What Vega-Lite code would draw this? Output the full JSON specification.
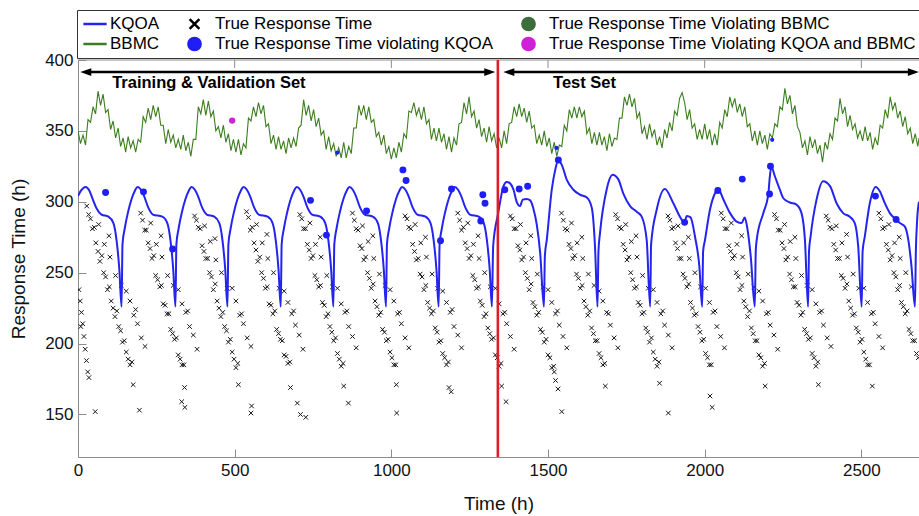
{
"$schema": "https://vega.github.io/schema/vega-lite/v6.json",
"width": 841, "height": 397,
"autosize": {"type": "none"},
"padding": {"left": 78, "top": 60, "right": 0, "bottom": 59},
"config": {"view": {"stroke": null}, "font": "Liberation Sans"},
"datasets": {
"cross": [
{"t":3,"v":238},{"t":7,"v":230},{"t":11,"v":222},{"t":15,"v":214},{"t":19,"v":205},{"t":23,"v":196},{"t":27,"v":188},{"t":31,"v":180},{"t":35,"v":176},{"t":9,"v":212},
{"t":34,"v":291},{"t":46,"v":281},{"t":57,"v":271},{"t":70,"v":258},{"t":82,"v":250},{"t":94,"v":238},{"t":106,"v":230},{"t":118,"v":219},{"t":130,"v":212},{"t":142,"v":201},{"t":154,"v":194},{"t":166,"v":185},
{"t":40,"v":288},{"t":64,"v":265},{"t":88,"v":247},{"t":112,"v":225},{"t":136,"v":209},{"t":160,"v":189},
{"t":52,"v":282},{"t":76,"v":262},{"t":100,"v":240},{"t":124,"v":223},{"t":148,"v":202},{"t":172,"v":187},
{"t":66,"v":284},{"t":84,"v":270},{"t":102,"v":261},{"t":120,"v":248},{"t":138,"v":241},
{"t":154,"v":237},{"t":166,"v":230},{"t":178,"v":220},{"t":190,"v":214},{"t":202,"v":204},{"t":214,"v":198},{"t":184,"v":224},
{"t":99,"v":276},{"t":176,"v":171},{"t":55,"v":152},{"t":28,"v":297},
{"t":200,"v":292},{"t":213,"v":280},{"t":224,"v":271},{"t":236,"v":260},{"t":248,"v":248},{"t":261,"v":240},{"t":272,"v":228},{"t":284,"v":221},{"t":296,"v":210},{"t":308,"v":203},{"t":320,"v":192},{"t":332,"v":185},
{"t":206,"v":287},{"t":230,"v":267},{"t":254,"v":245},{"t":278,"v":227},{"t":302,"v":207},{"t":326,"v":189},
{"t":218,"v":280},{"t":242,"v":262},{"t":266,"v":241},{"t":290,"v":221},{"t":314,"v":204},{"t":338,"v":185},
{"t":232,"v":285},{"t":250,"v":270},{"t":268,"v":261},{"t":286,"v":248},{"t":304,"v":241},
{"t":320,"v":238},{"t":332,"v":228},{"t":344,"v":222},{"t":356,"v":212},{"t":368,"v":206},{"t":380,"v":196},{"t":350,"v":223},
{"t":265,"v":276},{"t":340,"v":169},{"t":196,"v":153},{"t":331,"v":159},
{"t":372,"v":290},{"t":384,"v":282},{"t":396,"v":269},{"t":408,"v":260},{"t":420,"v":250},{"t":432,"v":238},{"t":444,"v":230},{"t":456,"v":219},{"t":468,"v":212},{"t":480,"v":201},{"t":492,"v":194},{"t":504,"v":183},
{"t":378,"v":287},{"t":402,"v":265},{"t":426,"v":247},{"t":450,"v":225},{"t":474,"v":209},{"t":498,"v":189},
{"t":390,"v":281},{"t":414,"v":260},{"t":438,"v":242},{"t":462,"v":222},{"t":486,"v":203},{"t":510,"v":186},
{"t":404,"v":283},{"t":422,"v":272},{"t":440,"v":259},{"t":458,"v":250},{"t":476,"v":239},
{"t":492,"v":239},{"t":504,"v":230},{"t":516,"v":220},{"t":528,"v":214},{"t":540,"v":204},{"t":552,"v":198},{"t":522,"v":221},
{"t":437,"v":274},{"t":512,"v":171},{"t":341,"v":155},{"t":554,"v":156},
{"t":538,"v":293},{"t":550,"v":280},{"t":562,"v":271},{"t":574,"v":258},{"t":586,"v":250},{"t":598,"v":239},{"t":610,"v":228},{"t":622,"v":221},{"t":634,"v":210},{"t":646,"v":203},{"t":658,"v":192},{"t":670,"v":186},
{"t":544,"v":289},{"t":568,"v":266},{"t":592,"v":246},{"t":616,"v":227},{"t":640,"v":207},{"t":664,"v":191},
{"t":556,"v":282},{"t":580,"v":261},{"t":604,"v":240},{"t":628,"v":223},{"t":652,"v":202},{"t":676,"v":187},
{"t":570,"v":284},{"t":588,"v":271},{"t":606,"v":260},{"t":624,"v":250},{"t":642,"v":239},
{"t":658,"v":237},{"t":670,"v":229},{"t":682,"v":221},{"t":694,"v":213},{"t":706,"v":206},{"t":718,"v":196},{"t":688,"v":223},
{"t":603,"v":277},{"t":678,"v":169},{"t":552,"v":151},{"t":700,"v":158},
{"t":708,"v":291},{"t":720,"v":281},{"t":732,"v":270},{"t":744,"v":260},{"t":756,"v":248},{"t":768,"v":240},{"t":780,"v":229},{"t":792,"v":219},{"t":804,"v":212},{"t":816,"v":202},{"t":828,"v":193},{"t":840,"v":184},
{"t":714,"v":288},{"t":738,"v":266},{"t":762,"v":245},{"t":786,"v":227},{"t":810,"v":208},{"t":834,"v":189},
{"t":726,"v":281},{"t":750,"v":262},{"t":774,"v":241},{"t":798,"v":221},{"t":822,"v":204},{"t":846,"v":186},
{"t":740,"v":285},{"t":758,"v":270},{"t":776,"v":261},{"t":794,"v":248},{"t":812,"v":240},
{"t":828,"v":239},{"t":840,"v":228},{"t":852,"v":222},{"t":864,"v":212},{"t":876,"v":205},{"t":888,"v":197},{"t":858,"v":223},
{"t":773,"v":275},{"t":848,"v":170},{"t":710,"v":150},{"t":727,"v":148},
{"t":876,"v":292},{"t":888,"v":281},{"t":900,"v":269},{"t":912,"v":259},{"t":924,"v":250},{"t":936,"v":239},{"t":948,"v":230},{"t":960,"v":220},{"t":972,"v":210},{"t":984,"v":202},{"t":996,"v":194},{"t":1008,"v":185},
{"t":882,"v":287},{"t":906,"v":267},{"t":930,"v":246},{"t":954,"v":226},{"t":978,"v":208},{"t":1002,"v":190},
{"t":894,"v":280},{"t":918,"v":261},{"t":942,"v":242},{"t":966,"v":222},{"t":990,"v":203},{"t":1014,"v":185},
{"t":908,"v":283},{"t":926,"v":272},{"t":944,"v":260},{"t":962,"v":249},{"t":980,"v":241},
{"t":996,"v":238},{"t":1008,"v":230},{"t":1020,"v":221},{"t":1032,"v":214},{"t":1044,"v":204},{"t":1056,"v":197},{"t":1026,"v":222},
{"t":941,"v":276},{"t":1016,"v":171},{"t":863,"v":158},{"t":1017,"v":151},
{"t":1044,"v":290},{"t":1056,"v":282},{"t":1068,"v":270},{"t":1080,"v":259},{"t":1092,"v":249},{"t":1104,"v":238},{"t":1116,"v":229},{"t":1128,"v":221},{"t":1140,"v":211},{"t":1152,"v":201},{"t":1164,"v":193},{"t":1176,"v":185},
{"t":1050,"v":288},{"t":1074,"v":265},{"t":1098,"v":247},{"t":1122,"v":225},{"t":1146,"v":208},{"t":1170,"v":190},
{"t":1062,"v":281},{"t":1086,"v":260},{"t":1110,"v":241},{"t":1134,"v":223},{"t":1158,"v":202},{"t":1182,"v":187},
{"t":1076,"v":284},{"t":1094,"v":271},{"t":1112,"v":261},{"t":1130,"v":249},{"t":1148,"v":239},
{"t":1164,"v":237},{"t":1176,"v":229},{"t":1188,"v":222},{"t":1200,"v":212},{"t":1212,"v":206},{"t":1224,"v":197},{"t":1194,"v":224},
{"t":1109,"v":275},{"t":1184,"v":169},{"t":1191,"v":166},
{"t":1212,"v":292},{"t":1224,"v":280},{"t":1236,"v":271},{"t":1248,"v":260},{"t":1260,"v":248},{"t":1272,"v":239},{"t":1284,"v":230},{"t":1296,"v":219},{"t":1308,"v":211},{"t":1320,"v":203},{"t":1332,"v":192},{"t":1344,"v":184},
{"t":1218,"v":287},{"t":1242,"v":267},{"t":1266,"v":245},{"t":1290,"v":227},{"t":1314,"v":207},{"t":1338,"v":190},
{"t":1230,"v":282},{"t":1254,"v":262},{"t":1278,"v":240},{"t":1302,"v":221},{"t":1326,"v":204},{"t":1350,"v":186},
{"t":1244,"v":285},{"t":1262,"v":270},{"t":1280,"v":260},{"t":1298,"v":250},{"t":1316,"v":240},
{"t":1332,"v":239},{"t":1344,"v":228},{"t":1356,"v":221},{"t":1368,"v":214},{"t":1380,"v":205},{"t":1392,"v":196},{"t":1362,"v":222},
{"t":1277,"v":276},{"t":1352,"v":170},{"t":1366,"v":159},
{"t":1380,"v":290},{"t":1392,"v":281},{"t":1404,"v":269},{"t":1416,"v":259},{"t":1428,"v":250},{"t":1440,"v":238},{"t":1452,"v":229},{"t":1464,"v":220},{"t":1476,"v":210},{"t":1488,"v":201},{"t":1500,"v":192},{"t":1512,"v":183},{"t":1524,"v":174},{"t":1532,"v":168},
{"t":1386,"v":288},{"t":1410,"v":266},{"t":1434,"v":246},{"t":1458,"v":226},{"t":1482,"v":208},{"t":1506,"v":190},
{"t":1398,"v":281},{"t":1422,"v":261},{"t":1446,"v":242},{"t":1470,"v":222},{"t":1494,"v":203},{"t":1518,"v":184},
{"t":1412,"v":284},{"t":1430,"v":271},{"t":1448,"v":260},{"t":1466,"v":249},{"t":1484,"v":240},
{"t":1500,"v":238},{"t":1512,"v":229},{"t":1524,"v":221},{"t":1536,"v":213},{"t":1548,"v":205},{"t":1560,"v":197},{"t":1530,"v":223},
{"t":1445,"v":276},{"t":1544,"v":152},{"t":1520,"v":180},
{"t":1543,"v":292},{"t":1555,"v":281},{"t":1567,"v":270},{"t":1579,"v":260},{"t":1591,"v":249},{"t":1603,"v":239},{"t":1615,"v":230},{"t":1627,"v":220},{"t":1639,"v":211},{"t":1651,"v":202},{"t":1663,"v":193},{"t":1675,"v":185},
{"t":1549,"v":287},{"t":1573,"v":267},{"t":1597,"v":246},{"t":1621,"v":226},{"t":1645,"v":207},{"t":1669,"v":190},
{"t":1561,"v":280},{"t":1585,"v":262},{"t":1609,"v":241},{"t":1633,"v":223},{"t":1657,"v":202},{"t":1681,"v":186},
{"t":1575,"v":285},{"t":1593,"v":271},{"t":1611,"v":260},{"t":1629,"v":249},{"t":1647,"v":241},
{"t":1663,"v":237},{"t":1675,"v":230},{"t":1687,"v":222},{"t":1699,"v":213},{"t":1711,"v":204},{"t":1723,"v":197},{"t":1693,"v":221},
{"t":1608,"v":275},{"t":1683,"v":170},
{"t":1716,"v":291},{"t":1728,"v":282},{"t":1740,"v":270},{"t":1752,"v":259},{"t":1764,"v":250},{"t":1776,"v":239},{"t":1788,"v":229},{"t":1800,"v":221},{"t":1812,"v":211},{"t":1824,"v":201},{"t":1836,"v":194},{"t":1848,"v":184},
{"t":1722,"v":288},{"t":1746,"v":266},{"t":1770,"v":245},{"t":1794,"v":227},{"t":1818,"v":208},{"t":1842,"v":189},
{"t":1734,"v":281},{"t":1758,"v":261},{"t":1782,"v":240},{"t":1806,"v":222},{"t":1830,"v":204},{"t":1854,"v":187},
{"t":1748,"v":284},{"t":1766,"v":272},{"t":1784,"v":261},{"t":1802,"v":248},{"t":1820,"v":239},
{"t":1836,"v":238},{"t":1848,"v":229},{"t":1860,"v":221},{"t":1872,"v":213},{"t":1884,"v":206},{"t":1896,"v":197},{"t":1866,"v":223},
{"t":1781,"v":276},{"t":1884,"v":151},{"t":1856,"v":172},
{"t":1883,"v":290},{"t":1895,"v":281},{"t":1907,"v":271},{"t":1919,"v":260},{"t":1931,"v":249},{"t":1943,"v":240},{"t":1955,"v":229},{"t":1967,"v":220},{"t":1979,"v":212},{"t":1991,"v":202},{"t":2003,"v":193},{"t":2015,"v":185},
{"t":1889,"v":287},{"t":1913,"v":267},{"t":1937,"v":246},{"t":1961,"v":225},{"t":1985,"v":208},{"t":2009,"v":190},
{"t":1901,"v":282},{"t":1925,"v":260},{"t":1949,"v":242},{"t":1973,"v":221},{"t":1997,"v":203},{"t":2021,"v":185},
{"t":1915,"v":283},{"t":1933,"v":271},{"t":1951,"v":260},{"t":1969,"v":250},{"t":1987,"v":240},
{"t":2003,"v":239},{"t":2015,"v":229},{"t":2027,"v":222},{"t":2039,"v":212},{"t":2051,"v":205},{"t":2063,"v":197},{"t":2033,"v":223},
{"t":1948,"v":275},{"t":2024,"v":155},{"t":2017,"v":163},
{"t":2053,"v":292},{"t":2065,"v":281},{"t":2077,"v":269},{"t":2089,"v":260},{"t":2101,"v":250},{"t":2113,"v":238},{"t":2125,"v":230},{"t":2137,"v":219},{"t":2149,"v":211},{"t":2161,"v":202},{"t":2173,"v":192},{"t":2185,"v":184},
{"t":2059,"v":288},{"t":2083,"v":265},{"t":2107,"v":247},{"t":2131,"v":226},{"t":2155,"v":207},{"t":2179,"v":190},
{"t":2071,"v":281},{"t":2095,"v":262},{"t":2119,"v":241},{"t":2143,"v":223},{"t":2167,"v":202},{"t":2191,"v":186},
{"t":2085,"v":285},{"t":2103,"v":270},{"t":2121,"v":261},{"t":2139,"v":249},{"t":2157,"v":240},
{"t":2173,"v":237},{"t":2185,"v":230},{"t":2197,"v":221},{"t":2209,"v":213},{"t":2221,"v":206},{"t":2233,"v":196},{"t":2203,"v":222},
{"t":2118,"v":276},{"t":2193,"v":170},
{"t":2223,"v":291},{"t":2235,"v":280},{"t":2247,"v":271},{"t":2259,"v":259},{"t":2271,"v":249},{"t":2283,"v":240},{"t":2295,"v":229},{"t":2307,"v":220},{"t":2319,"v":210},{"t":2331,"v":203},{"t":2343,"v":193},{"t":2355,"v":184},
{"t":2229,"v":288},{"t":2253,"v":267},{"t":2277,"v":245},{"t":2301,"v":227},{"t":2325,"v":207},{"t":2349,"v":190},
{"t":2241,"v":280},{"t":2265,"v":261},{"t":2289,"v":240},{"t":2313,"v":222},{"t":2337,"v":204},{"t":2361,"v":187},
{"t":2255,"v":284},{"t":2273,"v":272},{"t":2291,"v":260},{"t":2309,"v":248},{"t":2327,"v":241},
{"t":2343,"v":238},{"t":2355,"v":228},{"t":2367,"v":222},{"t":2379,"v":213},{"t":2391,"v":204},{"t":2403,"v":198},{"t":2373,"v":223},
{"t":2288,"v":275},{"t":2363,"v":171},
{"t":2388,"v":290},{"t":2400,"v":282},{"t":2412,"v":270},{"t":2424,"v":260},{"t":2436,"v":248},{"t":2448,"v":239},{"t":2460,"v":230},{"t":2472,"v":220},{"t":2484,"v":211},{"t":2496,"v":201},{"t":2508,"v":194},{"t":2520,"v":185},
{"t":2394,"v":287},{"t":2418,"v":266},{"t":2442,"v":246},{"t":2466,"v":225},{"t":2490,"v":208},{"t":2514,"v":189},
{"t":2406,"v":281},{"t":2430,"v":260},{"t":2454,"v":242},{"t":2478,"v":221},{"t":2502,"v":203},{"t":2526,"v":185},
{"t":2420,"v":283},{"t":2438,"v":271},{"t":2456,"v":261},{"t":2474,"v":249},{"t":2492,"v":239},
{"t":2508,"v":239},{"t":2520,"v":229},{"t":2532,"v":221},{"t":2544,"v":214},{"t":2556,"v":205},{"t":2568,"v":197},{"t":2538,"v":222},
{"t":2453,"v":277},{"t":2535,"v":170},
{"t":2556,"v":292},{"t":2568,"v":281},{"t":2580,"v":270},{"t":2592,"v":259},{"t":2604,"v":250},{"t":2616,"v":238},{"t":2628,"v":229},{"t":2640,"v":221},{"t":2652,"v":210},{"t":2664,"v":202},{"t":2676,"v":193},
{"t":2562,"v":288},{"t":2586,"v":266},{"t":2610,"v":247},{"t":2634,"v":226},{"t":2658,"v":207},{"t":2682,"v":190},
{"t":2574,"v":282},{"t":2598,"v":262},{"t":2622,"v":241},{"t":2646,"v":223},{"t":2670,"v":202},
{"t":2588,"v":284},{"t":2606,"v":271},{"t":2624,"v":260},{"t":2642,"v":250},{"t":2660,"v":240},
{"t":2621,"v":275}
],
"bbmc": [
{"t":0,"v":350},{"t":8,"v":341},{"t":16,"v":347},{"t":24,"v":340},{"t":32,"v":358},{"t":40,"v":356},{"t":48,"v":367},{"t":56,"v":362},{"t":64,"v":378},{"t":72,"v":368},{"t":80,"v":376},{"t":88,"v":363},{"t":96,"v":365},{"t":104,"v":351},{"t":112,"v":357},{"t":120,"v":345},{"t":128,"v":352},{"t":136,"v":339},{"t":144,"v":345},{"t":152,"v":335},{"t":160,"v":346},{"t":168,"v":338},{"t":176,"v":343},{"t":184,"v":335},{"t":192,"v":344},{"t":200,"v":342},{"t":208,"v":360},{"t":216,"v":356},{"t":224,"v":366},{"t":232,"v":358},{"t":240,"v":368},{"t":248,"v":360},{"t":256,"v":367},{"t":264,"v":354},{"t":272,"v":354},{"t":280,"v":341},{"t":288,"v":351},{"t":296,"v":342},{"t":304,"v":347},{"t":312,"v":338},{"t":320,"v":344},{"t":328,"v":337},{"t":336,"v":347},{"t":344,"v":336},{"t":352,"v":342},{"t":360,"v":332},{"t":368,"v":344},{"t":376,"v":344},{"t":384,"v":367},{"t":392,"v":362},{"t":400,"v":372},{"t":408,"v":361},{"t":416,"v":371},{"t":424,"v":360},{"t":432,"v":364},{"t":440,"v":350},{"t":448,"v":353},{"t":456,"v":345},{"t":464,"v":354},{"t":472,"v":342},{"t":480,"v":348},{"t":488,"v":336},{"t":496,"v":344},{"t":504,"v":335},{"t":512,"v":344},{"t":520,"v":333},{"t":528,"v":341},{"t":536,"v":338},{"t":544,"v":359},{"t":552,"v":357},{"t":560,"v":367},{"t":568,"v":360},{"t":576,"v":370},{"t":584,"v":362},{"t":592,"v":368},{"t":600,"v":353},{"t":608,"v":355},{"t":616,"v":341},{"t":624,"v":347},{"t":632,"v":337},{"t":640,"v":346},{"t":648,"v":337},{"t":656,"v":343},{"t":664,"v":334},{"t":672,"v":345},{"t":680,"v":338},{"t":688,"v":345},{"t":696,"v":339},{"t":704,"v":352},{"t":712,"v":354},{"t":720,"v":372},{"t":728,"v":361},{"t":736,"v":368},{"t":744,"v":357},{"t":752,"v":365},{"t":760,"v":353},{"t":768,"v":359},{"t":776,"v":347},{"t":784,"v":350},{"t":792,"v":337},{"t":800,"v":346},{"t":808,"v":336},{"t":816,"v":341},{"t":824,"v":332},{"t":832,"v":338},{"t":840,"v":331},{"t":848,"v":342},{"t":856,"v":331},{"t":864,"v":339},{"t":872,"v":334},{"t":880,"v":352},{"t":888,"v":352},{"t":896,"v":368},{"t":904,"v":361},{"t":912,"v":368},{"t":920,"v":358},{"t":928,"v":367},{"t":936,"v":356},{"t":944,"v":358},{"t":952,"v":346},{"t":960,"v":349},{"t":968,"v":340},{"t":976,"v":347},{"t":984,"v":334},{"t":992,"v":339},{"t":1000,"v":330},{"t":1008,"v":338},{"t":1016,"v":331},{"t":1024,"v":342},{"t":1032,"v":335},{"t":1040,"v":348},{"t":1048,"v":345},{"t":1056,"v":364},{"t":1064,"v":363},{"t":1072,"v":370},{"t":1080,"v":361},{"t":1088,"v":366},{"t":1096,"v":358},{"t":1104,"v":367},{"t":1112,"v":355},{"t":1120,"v":358},{"t":1128,"v":344},{"t":1136,"v":352},{"t":1144,"v":343},{"t":1152,"v":352},{"t":1160,"v":342},{"t":1168,"v":348},{"t":1176,"v":337},{"t":1184,"v":346},{"t":1192,"v":335},{"t":1200,"v":345},{"t":1208,"v":340},{"t":1216,"v":355},{"t":1224,"v":356},{"t":1232,"v":370},{"t":1240,"v":362},{"t":1248,"v":374},{"t":1256,"v":360},{"t":1264,"v":364},{"t":1272,"v":352},{"t":1280,"v":358},{"t":1288,"v":346},{"t":1296,"v":352},{"t":1304,"v":342},{"t":1312,"v":353},{"t":1320,"v":343},{"t":1328,"v":348},{"t":1336,"v":338},{"t":1344,"v":345},{"t":1352,"v":338},{"t":1360,"v":350},{"t":1368,"v":341},{"t":1376,"v":355},{"t":1384,"v":356},{"t":1392,"v":367},{"t":1400,"v":360},{"t":1408,"v":369},{"t":1416,"v":360},{"t":1424,"v":366},{"t":1432,"v":356},{"t":1440,"v":364},{"t":1448,"v":352},{"t":1456,"v":354},{"t":1464,"v":341},{"t":1472,"v":347},{"t":1480,"v":340},{"t":1488,"v":350},{"t":1496,"v":339},{"t":1504,"v":345},{"t":1512,"v":334},{"t":1520,"v":342},{"t":1528,"v":332},{"t":1536,"v":340},{"t":1544,"v":339},{"t":1552,"v":354},{"t":1560,"v":350},{"t":1568,"v":365},{"t":1576,"v":359},{"t":1584,"v":367},{"t":1592,"v":359},{"t":1600,"v":367},{"t":1608,"v":360},{"t":1616,"v":364},{"t":1624,"v":348},{"t":1632,"v":352},{"t":1640,"v":341},{"t":1648,"v":349},{"t":1656,"v":340},{"t":1664,"v":349},{"t":1672,"v":340},{"t":1680,"v":346},{"t":1688,"v":336},{"t":1696,"v":348},{"t":1704,"v":339},{"t":1712,"v":345},{"t":1720,"v":344},{"t":1728,"v":359},{"t":1736,"v":359},{"t":1744,"v":374},{"t":1752,"v":368},{"t":1760,"v":376},{"t":1768,"v":367},{"t":1776,"v":373},{"t":1784,"v":359},{"t":1792,"v":363},{"t":1800,"v":348},{"t":1808,"v":353},{"t":1816,"v":344},{"t":1824,"v":355},{"t":1832,"v":346},{"t":1840,"v":351},{"t":1848,"v":340},{"t":1856,"v":346},{"t":1864,"v":338},{"t":1872,"v":351},{"t":1880,"v":345},{"t":1888,"v":356},{"t":1896,"v":350},{"t":1904,"v":364},{"t":1912,"v":361},{"t":1920,"v":373},{"t":1928,"v":377},{"t":1936,"v":370},{"t":1944,"v":358},{"t":1952,"v":365},{"t":1960,"v":352},{"t":1968,"v":355},{"t":1976,"v":344},{"t":1984,"v":351},{"t":1992,"v":344},{"t":2000,"v":355},{"t":2008,"v":344},{"t":2016,"v":351},{"t":2024,"v":340},{"t":2032,"v":348},{"t":2040,"v":340},{"t":2048,"v":356},{"t":2056,"v":352},{"t":2064,"v":365},{"t":2072,"v":360},{"t":2080,"v":374},{"t":2088,"v":367},{"t":2096,"v":373},{"t":2104,"v":363},{"t":2112,"v":369},{"t":2120,"v":360},{"t":2128,"v":367},{"t":2136,"v":353},{"t":2144,"v":355},{"t":2152,"v":343},{"t":2160,"v":350},{"t":2168,"v":340},{"t":2176,"v":350},{"t":2184,"v":341},{"t":2192,"v":347},{"t":2200,"v":337},{"t":2208,"v":348},{"t":2216,"v":345},{"t":2224,"v":355},{"t":2232,"v":353},{"t":2240,"v":367},{"t":2248,"v":365},{"t":2256,"v":380},{"t":2264,"v":369},{"t":2272,"v":375},{"t":2280,"v":362},{"t":2288,"v":368},{"t":2296,"v":353},{"t":2304,"v":349},{"t":2312,"v":338},{"t":2320,"v":343},{"t":2328,"v":333},{"t":2336,"v":346},{"t":2344,"v":338},{"t":2352,"v":344},{"t":2360,"v":334},{"t":2368,"v":340},{"t":2376,"v":328},{"t":2384,"v":342},{"t":2392,"v":337},{"t":2400,"v":348},{"t":2408,"v":344},{"t":2416,"v":359},{"t":2424,"v":357},{"t":2432,"v":373},{"t":2440,"v":362},{"t":2448,"v":367},{"t":2456,"v":353},{"t":2464,"v":361},{"t":2472,"v":351},{"t":2480,"v":355},{"t":2488,"v":345},{"t":2496,"v":350},{"t":2504,"v":343},{"t":2512,"v":353},{"t":2520,"v":343},{"t":2528,"v":349},{"t":2536,"v":337},{"t":2544,"v":345},{"t":2552,"v":340},{"t":2560,"v":354},{"t":2568,"v":352},{"t":2576,"v":365},{"t":2584,"v":359},{"t":2592,"v":374},{"t":2600,"v":365},{"t":2608,"v":370},{"t":2616,"v":359},{"t":2624,"v":364},{"t":2632,"v":353},{"t":2640,"v":360},{"t":2648,"v":348},{"t":2656,"v":352},{"t":2664,"v":341},{"t":2672,"v":348},{"t":2680,"v":339},{"t":2684,"v":345}
],
"kqoa": [
{"t":0,"v":304},{"t":10,"v":308},{"t":24,"v":310.5},{"t":36,"v":308},{"t":45,"v":303},{"t":59,"v":295.5},{"t":75,"v":291},{"t":97,"v":289.5},{"t":113,"v":285},{"t":123,"v":273},{"t":132,"v":252},{"t":139,"v":226},
{"t":142,"v":270},{"t":149,"v":281},{"t":160,"v":293},{"t":171,"v":302},{"t":182,"v":308},{"t":190,"v":310.5},{"t":201,"v":308.5},{"t":211,"v":304},{"t":224,"v":296},{"t":239,"v":291},{"t":269,"v":289.5},{"t":285,"v":285},{"t":295,"v":273},{"t":304,"v":252},{"t":311,"v":226},
{"t":314,"v":270},{"t":321,"v":281},{"t":332,"v":293},{"t":343,"v":302},{"t":354,"v":308},{"t":362,"v":310.5},{"t":373,"v":308.5},{"t":383,"v":304},{"t":396,"v":296},{"t":411,"v":291},{"t":435,"v":289.5},{"t":451,"v":285},{"t":461,"v":273},{"t":470,"v":252},{"t":477,"v":226},
{"t":480,"v":270},{"t":487,"v":281},{"t":498,"v":293},{"t":509,"v":302},{"t":520,"v":308},{"t":528,"v":310.5},{"t":539,"v":308.5},{"t":549,"v":304},{"t":562,"v":296},{"t":577,"v":291},{"t":605,"v":289.5},{"t":621,"v":285},{"t":631,"v":273},{"t":640,"v":252},{"t":647,"v":226},
{"t":650,"v":270},{"t":657,"v":281},{"t":668,"v":293},{"t":679,"v":302},{"t":690,"v":308},{"t":698,"v":310.5},{"t":709,"v":308.5},{"t":719,"v":304},{"t":732,"v":296},{"t":747,"v":291},{"t":773,"v":289.5},{"t":789,"v":285},{"t":799,"v":273},{"t":808,"v":252},{"t":815,"v":226},
{"t":818,"v":270},{"t":825,"v":281},{"t":836,"v":293},{"t":847,"v":302},{"t":858,"v":308},{"t":866,"v":310.5},{"t":877,"v":308.5},{"t":887,"v":304},{"t":900,"v":296},{"t":915,"v":291},{"t":941,"v":289.5},{"t":957,"v":285},{"t":967,"v":273},{"t":976,"v":252},{"t":983,"v":226},
{"t":986,"v":270},{"t":993,"v":281},{"t":1004,"v":293},{"t":1015,"v":302},{"t":1026,"v":308},{"t":1034,"v":310.5},{"t":1045,"v":308.5},{"t":1055,"v":304},{"t":1068,"v":296},{"t":1083,"v":291},{"t":1109,"v":289.5},{"t":1125,"v":285},{"t":1135,"v":273},{"t":1144,"v":252},{"t":1151,"v":226},
{"t":1154,"v":270},{"t":1161,"v":281},{"t":1172,"v":293},{"t":1183,"v":302},{"t":1194,"v":308},{"t":1202,"v":310.5},{"t":1213,"v":308.5},{"t":1223,"v":304},{"t":1236,"v":296},{"t":1251,"v":291},{"t":1279,"v":289.5},{"t":1295,"v":285},{"t":1305,"v":273},{"t":1314,"v":252},{"t":1321,"v":226},
{"t":1325,"v":269},{"t":1341,"v":292},{"t":1358,"v":311},{"t":1368,"v":314},{"t":1379,"v":313},{"t":1390,"v":308.5},{"t":1400,"v":300},{"t":1411,"v":297},{"t":1419,"v":301.5},{"t":1432,"v":302},{"t":1443,"v":301},{"t":1453,"v":295.5},{"t":1464,"v":284},{"t":1475,"v":264},{"t":1487,"v":226},
{"t":1490,"v":262},{"t":1496,"v":273},{"t":1512,"v":308.5},{"t":1523,"v":322.5},{"t":1533,"v":329.5},{"t":1544,"v":326},{"t":1560,"v":315.5},{"t":1581,"v":308.5},{"t":1602,"v":305},{"t":1624,"v":303},{"t":1640,"v":295.5},{"t":1650,"v":268.5},{"t":1658,"v":226},
{"t":1661,"v":265},{"t":1666,"v":278},{"t":1687,"v":308.5},{"t":1706,"v":319},{"t":1724,"v":316},{"t":1740,"v":306},{"t":1762,"v":297},{"t":1783,"v":293},{"t":1799,"v":289.5},{"t":1815,"v":273},{"t":1826,"v":226},
{"t":1829,"v":270},{"t":1847,"v":294.5},{"t":1873,"v":309},{"t":1900,"v":299},{"t":1921,"v":289.5},{"t":1935,"v":285.5},{"t":1943,"v":290},{"t":1955,"v":289},{"t":1969,"v":275.5},{"t":1983,"v":254.5},{"t":1992,"v":226},
{"t":1995,"v":265},{"t":2001,"v":273},{"t":2017,"v":294.5},{"t":2033,"v":306},{"t":2043,"v":309},{"t":2059,"v":302},{"t":2081,"v":292},{"t":2102,"v":286},{"t":2118,"v":285},{"t":2128,"v":289},{"t":2136,"v":281.5},{"t":2147,"v":261.5},{"t":2160,"v":226},
{"t":2163,"v":265},{"t":2166,"v":273},{"t":2187,"v":292},{"t":2203,"v":305},{"t":2208,"v":318},{"t":2213,"v":324.5},{"t":2224,"v":318},{"t":2240,"v":308.5},{"t":2251,"v":302.5},{"t":2272,"v":299.5},{"t":2293,"v":298},{"t":2309,"v":292},{"t":2320,"v":273},{"t":2330,"v":226},
{"t":2333,"v":265},{"t":2338,"v":275.5},{"t":2357,"v":301.5},{"t":2378,"v":314.5},{"t":2400,"v":311},{"t":2421,"v":299},{"t":2442,"v":292},{"t":2463,"v":289.5},{"t":2479,"v":285},{"t":2490,"v":268.5},{"t":2501,"v":226},
{"t":2504,"v":265},{"t":2511,"v":275.5},{"t":2527,"v":299},{"t":2546,"v":310.5},{"t":2559,"v":307.5},{"t":2575,"v":299},{"t":2591,"v":292},{"t":2610,"v":287.5},{"t":2623,"v":285},{"t":2639,"v":282.5},{"t":2650,"v":273},{"t":2660,"v":254.5},{"t":2671,"v":226},
{"t":2674,"v":265},{"t":2678,"v":287},{"t":2684,"v":300}
],
"viok": [
{"t":88,"v":306.6},{"t":209,"v":307},{"t":302,"v":266.7},{"t":742,"v":301},{"t":793,"v":276.5},{"t":921,"v":293.6},{"t":1037,"v":322.5},{"t":1047,"v":315},{"t":1157,"v":272.5},{"t":1192,"v":309},{"t":1285.5,"v":286.5},{"t":1292,"v":305},{"t":1299,"v":299},{"t":1362,"v":308.5},{"t":1408,"v":309},{"t":1435,"v":311},{"t":1533,"v":329.5},{"t":1527,"v":338},{"t":1936,"v":285.5},{"t":2042,"v":308},{"t":2120,"v":316},{"t":2207,"v":305.5},{"t":2210,"v":325},{"t":2545,"v":304},{"t":2611,"v":287.5},{"t":828,"v":334.7},{"t":2215.6,"v":343.7}
],
"viob": [{"t":492,"v":357.3}],
"split": [{"t":1340}],
"topticks": [{"t":500},{"t":1000},{"t":1500},{"t":2000},{"t":2500}],
"arrows": [{"t":25,"b":1314,"v":391.5},{"t":1375,"b":2666,"v":391.5}],
"headl": [{"t":25,"v":391.5},{"t":1375,"v":391.5}],
"headr": [{"t":1314,"v":391.5},{"t":2666,"v":391.5}],
"labels": [{"t":109,"v":384,"label":"Training & Validation Set"},{"t":1516,"v":384,"label":"Test Set"}]
},
"layer": [
{
"data": {"name": "cross"},
"mark": {"type": "point", "size": 32, "strokeWidth": 1, "filled": false, "opacity": 0.9, "clip": true},
"encoding": {
"x": {"field": "t", "type": "quantitative", "scale": {"domain": [0, 2684], "nice": false, "zero": false},
"axis": {"orient": "bottom", "title": "Time (h)", "values": [0,500,1000,1500,2000,2500], "format": "d", "tickSize": -8, "labelPadding": 13, "grid": false, "domainColor": "#8c8c8c", "tickColor": "#8c8c8c", "labelFontSize": 17, "titleFontSize": 19, "labelFont": "Liberation Sans", "titleFont": "Liberation Sans", "titleFontWeight": "normal", "labelColor": "#111", "titleColor": "#111", "titlePadding": 16, "labelFlush": false}},
"y": {"field": "v", "type": "quantitative", "scale": {"domain": [120, 400], "nice": false, "zero": false},
"axis": {"orient": "left", "title": "Response Time (h)", "values": [150,200,250,300,350,400], "format": "d", "tickSize": -8, "labelPadding": 13, "grid": false, "domainColor": "#8c8c8c", "tickColor": "#8c8c8c", "labelFontSize": 17, "titleFontSize": 19, "labelFont": "Liberation Sans", "titleFont": "Liberation Sans", "titleFontWeight": "normal", "labelColor": "#111", "titleColor": "#111", "titlePadding": 16, "labelFlush": false}},
"color": {"datum": "True Response Time", "type": "nominal",
"scale": {"domain": ["KQOA", "BBMC", "True Response Time", "True Response Time violating KQOA", "True Response Time Violating BBMC", "True Response Time Violating KQOA and BBMC"],
"range": ["#2424ee", "#3c7d1e", "#000000", "#1e1ef5", "#3b6e3b", "#d020d8"]},
"legend": {"title": null, "orient": "none", "legendX": -1, "legendY": -50, "columns": 3, "padding": 4, "rowPadding": 0, "clipHeight": 20, "columnPadding": 26, "symbolSize": 150, "symbolStrokeWidth": 2.5, "symbolOpacity": 1, "labelOffset": 12, "labelFontSize": 17, "labelFont": "Liberation Sans", "labelColor": "#000", "labelLimit": 500, "strokeColor": "#333", "fillColor": "#ffffff"}},
"shape": {"datum": "True Response Time", "type": "nominal",
"scale": {"domain": ["KQOA", "BBMC", "True Response Time", "True Response Time violating KQOA", "True Response Time Violating BBMC", "True Response Time Violating KQOA and BBMC"],
"range": ["M-1,0L2.8,0", "M-1,0L2.8,0", "M-0.8,-0.8L0.8,0.8M-0.8,0.8L0.8,-0.8", "circle", "circle", "circle"]}}
}
},
{
"data": {"name": "bbmc"},
"mark": {"type": "line", "strokeWidth": 1.1, "clip": true},
"encoding": {
"x": {"field": "t", "type": "quantitative"},
"y": {"field": "v", "type": "quantitative"},
"color": {"datum": "BBMC", "type": "nominal"}
}
},
{
"data": {"name": "kqoa"},
"mark": {"type": "line", "strokeWidth": 2, "interpolate": "monotone", "clip": true},
"encoding": {
"x": {"field": "t", "type": "quantitative"},
"y": {"field": "v", "type": "quantitative"},
"color": {"datum": "KQOA", "type": "nominal"}
}
},
{
"data": {"name": "viok"},
"mark": {"type": "point", "filled": true, "opacity": 1, "clip": true},
"encoding": {
"x": {"field": "t", "type": "quantitative"},
"y": {"field": "v", "type": "quantitative"},
"size": {"condition": {"test": "datum.v > 330", "value": 18}, "value": 48},
"color": {"datum": "True Response Time violating KQOA", "type": "nominal"},
"shape": {"datum": "True Response Time violating KQOA", "type": "nominal"}
}
},
{
"data": {"name": "viob"},
"mark": {"type": "point", "filled": true, "opacity": 1, "size": 40, "clip": true},
"encoding": {
"x": {"field": "t", "type": "quantitative"},
"y": {"field": "v", "type": "quantitative"},
"color": {"datum": "True Response Time Violating KQOA and BBMC", "type": "nominal"},
"shape": {"datum": "True Response Time Violating KQOA and BBMC", "type": "nominal"}
}
},
{
"data": {"name": "topticks"},
"mark": {"type": "rule", "color": "#8c8c8c", "strokeWidth": 1},
"encoding": {
"x": {"field": "t", "type": "quantitative"},
"y": {"datum": 400, "type": "quantitative"},
"y2": {"datum": 394.4}
}
},
{
"data": {"name": "split"},
"mark": {"type": "rule", "color": "#8c8c8c", "strokeWidth": 1},
"encoding": {
"y": {"datum": 400, "type": "quantitative"}
}
},
{
"data": {"name": "split"},
"mark": {"type": "rule", "color": "#d9202a", "strokeWidth": 2.6},
"encoding": {
"x": {"field": "t", "type": "quantitative"}
}
},
{
"data": {"name": "arrows"},
"mark": {"type": "rule", "color": "#000000", "strokeWidth": 2.5},
"encoding": {
"x": {"field": "t", "type": "quantitative"},
"x2": {"field": "b"},
"y": {"field": "v", "type": "quantitative"}
}
},
{
"data": {"name": "headl"},
"mark": {"type": "point", "shape": "M-1,0L1,-0.7L1,0.7Z", "size": 121, "filled": true, "color": "#000000", "opacity": 1},
"encoding": {
"x": {"field": "t", "type": "quantitative"},
"y": {"field": "v", "type": "quantitative"}
}
},
{
"data": {"name": "headr"},
"mark": {"type": "point", "shape": "M1,0L-1,-0.7L-1,0.7Z", "size": 121, "filled": true, "color": "#000000", "opacity": 1},
"encoding": {
"x": {"field": "t", "type": "quantitative"},
"y": {"field": "v", "type": "quantitative"}
}
},
{
"data": {"name": "labels"},
"mark": {"type": "text", "font": "Liberation Sans", "fontSize": 16.5, "fontWeight": "bold", "align": "left", "baseline": "middle", "color": "#000000"},
"encoding": {
"x": {"field": "t", "type": "quantitative"},
"y": {"field": "v", "type": "quantitative"},
"text": {"field": "label"}
}
}
]
}
